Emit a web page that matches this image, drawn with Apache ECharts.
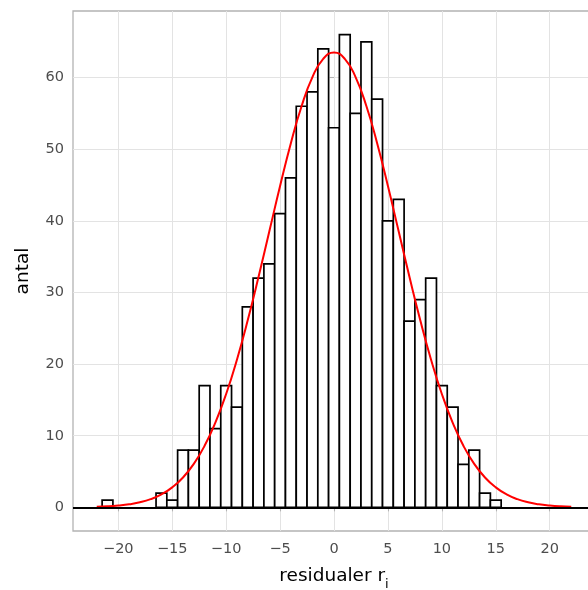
<!DOCTYPE html>
<html><head><meta charset="utf-8">
<script src="https://cdn.jsdelivr.net/npm/echarts@6/dist/echarts.min.js"></script>
<style>html,body{margin:0;padding:0;background:#fff}#c{width:588px;height:590px}</style>
</head><body><div id="c"></div>
<script>
// histogram bins (centre of each 1-unit wide bin) and counts
const binCenters = [-21,-20,-19,-18,-17,-16,-15,-14,-13,-12,-11,-10,-9,-8,-7,-6,-5,-4,-3,-2,-1,0,1,2,3,4,5,6,7,8,9,10,11,12,13,14,15];
const binCounts  = [1,0,0,0,0,2,1,8,8,17,11,17,14,28,32,34,41,46,56,58,64,53,66,55,65,57,40,43,26,29,32,17,14,6,8,2,1];
const binWidth = 1;
// red fitted curve
const curveX = [-22,-21,-20,-19,-18,-17,-16,-15,-14,-13,-12,-11,-10,-9,-8,-7,-6,-5,-4,-3,-2,-1,0,1,2,3,4,5,6,7,8,9,10,11,12,13,14,15,16,17,18,19,20,21,22];
const curveY = [0.08,0.14,0.25,0.42,0.71,1.15,1.81,2.79,4.17,6.07,8.59,11.83,15.83,20.62,26.11,32.15,38.51,44.87,50.85,56.04,60.07,62.62,63.5,62.62,60.07,56.04,50.85,44.87,38.51,32.15,26.11,20.62,15.83,11.83,8.59,6.07,4.17,2.79,1.81,1.15,0.71,0.42,0.25,0.14,0.08];
const xTicks = [-20,-15,-10,-5,0,5,10,15,20];
const yTicks = [0,10,20,30,40,50,60];
const xTitle = 'residualer r';
const xTitleSub = 'i';
const yTitle = 'antal';

const FONT = 'DejaVu Sans';
const minus = v => String(v).replace('-', '\u2212');

const chart = echarts.init(document.getElementById('c'), null, {renderer: 'canvas'});
chart.setOption({
  animation: false,
  backgroundColor: '#ffffff',
  textStyle: {fontFamily: FONT},
  grid: {left: 73, right: -7, top: 11, bottom: 59, outerBoundsMode: 'none', containLabel: false,
         show: true, borderColor: '#b3b3b3', borderWidth: 1.3, backgroundColor: 'transparent'},
  xAxis: {
    type: 'value', min: -24.2, max: 24.2,
    axisLine: {show: false},
    axisTick: {show: true, length: 4, lineStyle: {color: '#b3b3b3', width: 1.1}, customValues: xTicks},
    axisLabel: {customValues: xTicks, formatter: minus, color: '#4d4d4d', fontSize: 14.5, margin: 11, fontFamily: FONT},
    splitLine: {show: true, lineStyle: {color: '#e3e3e3', width: 1}},
    name: '{a|' + xTitle + '}{b|' + xTitleSub + '}',
    nameLocation: 'middle', nameGap: 30,
    nameTextStyle: {rich: {
      a: {fontSize: 18.5, color: '#000', fontFamily: FONT, lineHeight: 30, verticalAlign: 'middle'},
      b: {fontSize: 13, color: '#000', fontFamily: FONT, lineHeight: 30, verticalAlign: 'bottom'}
    }}
  },
  yAxis: {
    type: 'value', min: -3.3, max: 69.3,
    axisLine: {show: false},
    axisTick: {show: true, length: 4, lineStyle: {color: '#b3b3b3', width: 1.1}, customValues: yTicks},
    axisLabel: {customValues: yTicks, color: '#4d4d4d', fontSize: 14.5, margin: 9, fontFamily: FONT},
    splitLine: {show: true, lineStyle: {color: '#e3e3e3', width: 1}},
    name: yTitle, nameLocation: 'middle', nameGap: 40,
    nameTextStyle: {fontSize: 18.5, color: '#000', fontFamily: FONT}
  },
  series: [
    {
      type: 'custom', z: 2,
      data: binCenters.map((c, i) => [c, binCounts[i]]),
      renderItem: (params, api) => {
        const c = api.value(0), v = api.value(1);
        if (!v) return null;
        const p0 = api.coord([c - binWidth / 2, v]);
        const p1 = api.coord([c + binWidth / 2, 0]);
        return {type: 'rect', shape: {x: p0[0], y: p0[1], width: p1[0] - p0[0], height: p1[1] - p0[1]},
                style: {fill: '#ffffff', stroke: '#000000', lineWidth: 1.7}};
      }
    },
    {
      type: 'line', z: 3, data: [], silent: true,
      markLine: {silent: true, symbol: 'none', label: {show: false},
        lineStyle: {color: '#000', width: 1.8, type: 'solid'},
        data: [{yAxis: 0}]}
    },
    {
      type: 'line', z: 4, smooth: true, showSymbol: false, silent: true,
      data: curveX.map((x, i) => [x, curveY[i]]),
      lineStyle: {color: '#ff0000', width: 2}
    }
  ]
});
</script></body></html>
